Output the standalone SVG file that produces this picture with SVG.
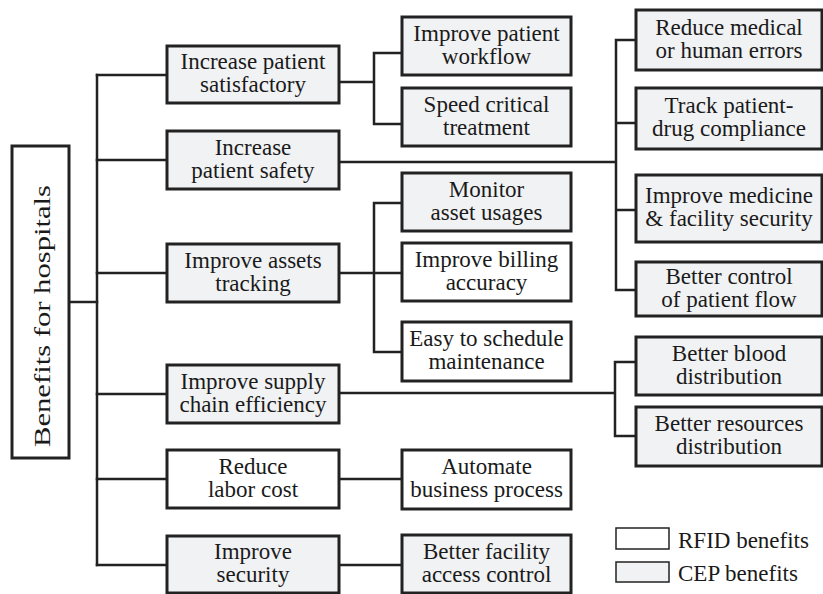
<svg xmlns="http://www.w3.org/2000/svg" width="823" height="594" viewBox="0 0 823 594">
  <style>
    .box { stroke: #222; stroke-width: 3; }
    .cep { fill: #f1f2f4; }
    .rfid { fill: #ffffff; }
    .lbl { font-family: "Liberation Serif", "Times New Roman", serif; font-size: 23px; fill: #1a1a1a; text-anchor: middle; }
    .leg { font-family: "Liberation Serif", "Times New Roman", serif; font-size: 23px; fill: #1a1a1a; }
    .wire { fill: none; stroke: #222; stroke-width: 2.5; stroke-linecap: square; }
    .legbox { stroke: #222; stroke-width: 1.5; }
  </style>

  <rect width="823" height="594" fill="#ffffff"/>

  <!-- connectors -->
  <g id="connectors" class="wire">
    <path d="M69,302 H97"/>
    <path d="M97,75 V565"/>
    <path d="M97,75 H167 M97,160 H167 M97,273 H167 M97,394 H167 M97,479 H167 M97,565 H167"/>
    <!-- patient satisfactory -->
    <path d="M339,82 H374 M402,53 H374 V124 H402"/>
    <!-- patient safety -->
    <path d="M339,162 H616 M636,40 H616 V290 H636 M616,123 H636 M616,210 H636"/>
    <!-- assets tracking -->
    <path d="M339,273 H402 M402,203 H374 V352 H402"/>
    <!-- supply chain -->
    <path d="M339,393 H615 M636,362 H615 V436 H636"/>
    <!-- labor cost, security -->
    <path d="M339,479 H402 M339,565 H402"/>
  </g>

  <!-- root -->
  <g id="root">
    <rect class="box rfid" x="12" y="146" width="57" height="312"/>
    <text class="leg" x="50" y="316" font-size="28" text-anchor="middle" textLength="262" lengthAdjust="spacingAndGlyphs" transform="rotate(-90 50 316)">Benefits for hospitals</text>
  </g>

  <!-- first level -->
  <g id="n1"><rect class="box cep" x="167" y="46" width="172" height="57"/>
    <text class="lbl" x="253" y="69">Increase patient</text><text class="lbl" x="253" y="92">satisfactory</text></g>
  <g id="n2"><rect class="box cep" x="167" y="131" width="172" height="58"/>
    <text class="lbl" x="253" y="155">Increase</text><text class="lbl" x="253" y="178">patient safety</text></g>
  <g id="n3"><rect class="box cep" x="167" y="244" width="172" height="58"/>
    <text class="lbl" x="253" y="268">Improve assets</text><text class="lbl" x="253" y="291">tracking</text></g>
  <g id="n4"><rect class="box cep" x="167" y="365" width="172" height="58"/>
    <text class="lbl" x="253" y="389">Improve supply</text><text class="lbl" x="253" y="412">chain efficiency</text></g>
  <g id="n5"><rect class="box rfid" x="167" y="450" width="172" height="58"/>
    <text class="lbl" x="253" y="474">Reduce</text><text class="lbl" x="253" y="497">labor cost</text></g>
  <g id="n6"><rect class="box cep" x="167" y="536" width="172" height="57"/>
    <text class="lbl" x="253" y="559">Improve</text><text class="lbl" x="253" y="582">security</text></g>

  <!-- second level, middle column -->
  <g id="m1"><rect class="box cep" x="402" y="17" width="169" height="58"/>
    <text class="lbl" x="486.5" y="41">Improve patient</text><text class="lbl" x="486.5" y="64">workflow</text></g>
  <g id="m2"><rect class="box cep" x="402" y="88" width="169" height="58"/>
    <text class="lbl" x="486.5" y="112">Speed critical</text><text class="lbl" x="486.5" y="135">treatment</text></g>
  <g id="m3"><rect class="box cep" x="402" y="173" width="169" height="58"/>
    <text class="lbl" x="486.5" y="197">Monitor</text><text class="lbl" x="486.5" y="220">asset usages</text></g>
  <g id="m4"><rect class="box rfid" x="402" y="243" width="169" height="58"/>
    <text class="lbl" x="486.5" y="267">Improve billing</text><text class="lbl" x="486.5" y="290">accuracy</text></g>
  <g id="m5"><rect class="box rfid" x="402" y="322" width="169" height="59"/>
    <text class="lbl" x="486.5" y="346">Easy to schedule</text><text class="lbl" x="486.5" y="369">maintenance</text></g>
  <g id="m6"><rect class="box rfid" x="402" y="450" width="169" height="59"/>
    <text class="lbl" x="486.5" y="474">Automate</text><text class="lbl" x="486.5" y="497">business process</text></g>
  <g id="m7"><rect class="box cep" x="402" y="535" width="169" height="58"/>
    <text class="lbl" x="486.5" y="559">Better facility</text><text class="lbl" x="486.5" y="582">access control</text></g>

  <!-- second level, right column -->
  <g id="r1"><rect class="box cep" x="636" y="10" width="186" height="60"/>
    <text class="lbl" x="729" y="35">Reduce medical</text><text class="lbl" x="729" y="58">or human errors</text></g>
  <g id="r2"><rect class="box cep" x="636" y="88" width="186" height="61"/>
    <text class="lbl" x="729" y="113">Track patient-</text><text class="lbl" x="729" y="136">drug compliance</text></g>
  <g id="r3"><rect class="box cep" x="636" y="175" width="186" height="67"/>
    <text class="lbl" x="729" y="203">Improve medicine</text><text class="lbl" x="729" y="226">&amp; facility security</text></g>
  <g id="r4"><rect class="box cep" x="636" y="262" width="186" height="54"/>
    <text class="lbl" x="729" y="284">Better control</text><text class="lbl" x="729" y="307">of patient flow</text></g>
  <g id="r5"><rect class="box cep" x="636" y="337" width="186" height="58"/>
    <text class="lbl" x="729" y="361">Better blood</text><text class="lbl" x="729" y="384">distribution</text></g>
  <g id="r6"><rect class="box cep" x="636" y="407" width="186" height="59"/>
    <text class="lbl" x="729" y="431">Better resources</text><text class="lbl" x="729" y="454">distribution</text></g>

  <!-- legend -->
  <g id="legend">
    <rect class="legbox rfid" x="616" y="528" width="53" height="21"/>
    <text class="leg" x="678" y="548">RFID benefits</text>
    <rect class="legbox cep" x="616" y="562" width="53" height="20"/>
    <text class="leg" x="678" y="581">CEP benefits</text>
  </g>
</svg>
